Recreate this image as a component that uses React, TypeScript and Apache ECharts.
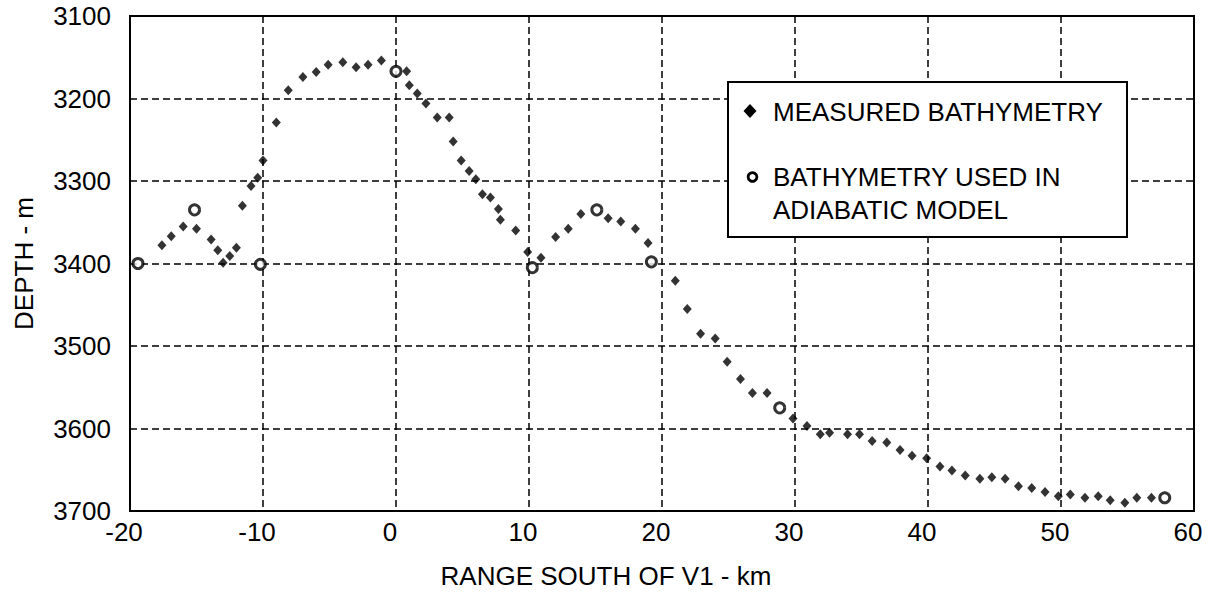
import React, { useEffect, useRef } from "react";
import * as echarts from "echarts";

// Measured bathymetry (diamonds): range south of V1 (km) and depth (m)
const measuredRange = [
  -17.6, -16.9, -16.0, -15.0, -13.9, -13.4, -13.0, -12.5, -12.0, -11.55,
  -10.9, -10.4, -10.0, -9.0, -8.1, -7.0, -6.0, -5.1, -4.0, -3.0,
  -2.1, -1.1, 0.8, 1.0, 1.6, 2.25, 3.1, 4.0, 4.3, 4.9,
  5.5, 6.0, 6.5, 7.1, 7.7, 7.85, 9.0, 9.9, 10.9, 12.0,
  12.95, 13.9, 15.95, 16.9, 18.0, 18.95, 21.0, 21.9, 22.9, 24.0,
  24.9, 25.9, 26.8, 27.9, 29.85, 30.9, 31.9, 32.6, 33.95, 34.85,
  35.8, 36.9, 37.9, 38.8, 39.9, 40.9, 41.8, 42.8, 43.9, 44.8,
  45.8, 46.8, 47.8, 48.8, 49.8, 50.7, 51.8, 52.8, 53.7, 54.8,
  55.7, 56.8,
];
const measuredDepth = [
  3378, 3367, 3355, 3358, 3371, 3384, 3399, 3391, 3381, 3330,
  3306, 3296, 3275, 3229, 3190, 3174, 3168, 3159, 3156, 3162,
  3159, 3154, 3167, 3184, 3194, 3206, 3223, 3223, 3252, 3275,
  3288, 3298, 3316, 3320, 3334, 3347, 3360, 3386, 3393, 3368,
  3358, 3340, 3345, 3349, 3358, 3375, 3421, 3455, 3485, 3491,
  3519, 3540, 3557, 3557, 3588, 3597, 3607, 3605, 3607, 3607,
  3615, 3617, 3626, 3633, 3636, 3646, 3651, 3657, 3661, 3659,
  3661, 3670, 3672, 3677, 3682, 3680, 3684, 3682, 3687, 3690,
  3684, 3684,
];

// Bathymetry used in adiabatic model (open circles)
const modelRange = [-19.4, -15.15, -10.2, 0.0, 10.25, 15.1, 19.2, 28.85, 57.8];
const modelDepth = [3400, 3335, 3401, 3167, 3405, 3335, 3398, 3575, 3684];

const xMin = -20;
const xMax = 60;
const xStep = 10;
const yMin = 3100;
const yMax = 3700;
const yStep = 100;

const xTitle = "RANGE SOUTH OF V1 - km";
const yTitle = "DEPTH - m";
const legendMeasured = "MEASURED BATHYMETRY";
const legendModel1 = "BATHYMETRY USED IN";
const legendModel2 = "ADIABATIC MODEL";

const FONT = "'Liberation Sans', Arial, Helvetica, sans-serif";

export default function App() {
  const ref = useRef<HTMLDivElement>(null);

  useEffect(() => {
    if (!ref.current) return;
    const chart = echarts.init(ref.current, null, { renderer: "svg" });

    const measuredData = measuredRange.map((x, i) => [x, measuredDepth[i]]);
    const modelData = modelRange.map((x, i) => [x, modelDepth[i]]);

    const splitLine = {
      show: true,
      lineStyle: { color: "#000", width: 1.5, type: [7, 4] as any },
    };

    const Z = 100;

    chart.setOption({
      animation: false,
      backgroundColor: "#fff",
      textStyle: { fontFamily: FONT, color: "#000" },
      grid: {
        left: 130,
        right: 17,
        top: 16,
        bottom: 87,
        show: true,
        borderColor: "#000",
        borderWidth: 2,
        backgroundColor: "transparent",
      },
      xAxis: {
        type: "value",
        min: xMin,
        max: xMax,
        interval: xStep,
        name: xTitle,
        nameLocation: "middle",
        nameGap: 52,
        nameTextStyle: {
          fontSize: 26,
          color: "#000",
          fontFamily: FONT,
          padding: [0, 112, 0, 0],
        },
        axisLine: { show: true, onZero: false, lineStyle: { color: "#000", width: 2 } },
        axisTick: { show: false },
        axisLabel: {
          fontSize: 26,
          color: "#000",
          margin: 8,
          fontFamily: FONT,
          padding: [0, 12, 0, 0],
          formatter: (v: number) => String(v),
        },
        splitLine,
      },
      yAxis: {
        type: "value",
        inverse: true,
        min: yMin,
        max: yMax,
        interval: yStep,
        name: yTitle,
        nameLocation: "middle",
        nameGap: 93,
        nameTextStyle: { fontSize: 26, color: "#000", fontFamily: FONT },
        axisLine: { show: true, onZero: false, lineStyle: { color: "#000", width: 2 } },
        axisTick: { show: false },
        axisLabel: {
          fontSize: 26,
          color: "#000",
          margin: 19,
          fontFamily: FONT,
          formatter: (v: number) => String(v),
        },
        splitLine,
      },
      series: [
        {
          name: legendMeasured,
          type: "scatter",
          data: measuredData,
          symbol: "diamond",
          symbolSize: [9, 10],
          itemStyle: { color: "#000" },
          z: 3,
        },
        {
          name: "BATHYMETRY USED IN ADIABATIC MODEL",
          type: "scatter",
          data: modelData,
          symbol: "circle",
          symbolSize: 10,
          itemStyle: { color: "#fff", borderColor: "#000", borderWidth: 3 },
          z: 4,
        },
      ],
      graphic: [
        {
          type: "group",
          left: 727,
          top: 81,
          z: Z,
          children: [
            {
              type: "rect",
              z: Z,
              shape: { x: 0, y: 0, width: 399, height: 155 },
              style: { fill: "#fff", stroke: "#000", lineWidth: 2 },
            },
            {
              type: "polygon",
              z: Z + 1,
              shape: { points: [[22, 22], [28.5, 29], [22, 36], [15.5, 29]] },
              style: { fill: "#000" },
            },
            {
              type: "text",
              z: Z + 1,
              x: 45,
              y: 30,
              style: {
                text: legendMeasured,
                fontSize: 26,
                fontFamily: FONT,
                fill: "#000",
                verticalAlign: "middle",
                align: "left",
              },
            },
            {
              type: "circle",
              z: Z + 1,
              shape: { cx: 24.5, cy: 95, r: 4.4 },
              style: { fill: "#fff", stroke: "#000", lineWidth: 2.8 },
            },
            {
              type: "text",
              z: Z + 1,
              x: 45,
              y: 95,
              style: {
                text: legendModel1,
                fontSize: 26,
                fontFamily: FONT,
                fill: "#000",
                verticalAlign: "middle",
                align: "left",
              },
            },
            {
              type: "text",
              z: Z + 1,
              x: 45,
              y: 128,
              style: {
                text: legendModel2,
                fontSize: 26,
                fontFamily: FONT,
                fill: "#000",
                verticalAlign: "middle",
                align: "left",
              },
            },
          ],
        },
      ],
    });

    return () => chart.dispose();
  }, []);

  return (
    <div
      ref={ref}
      style={{ position: "absolute", left: 0, top: 0, width: 1211, height: 598, background: "#fff" }}
    />
  );
}
